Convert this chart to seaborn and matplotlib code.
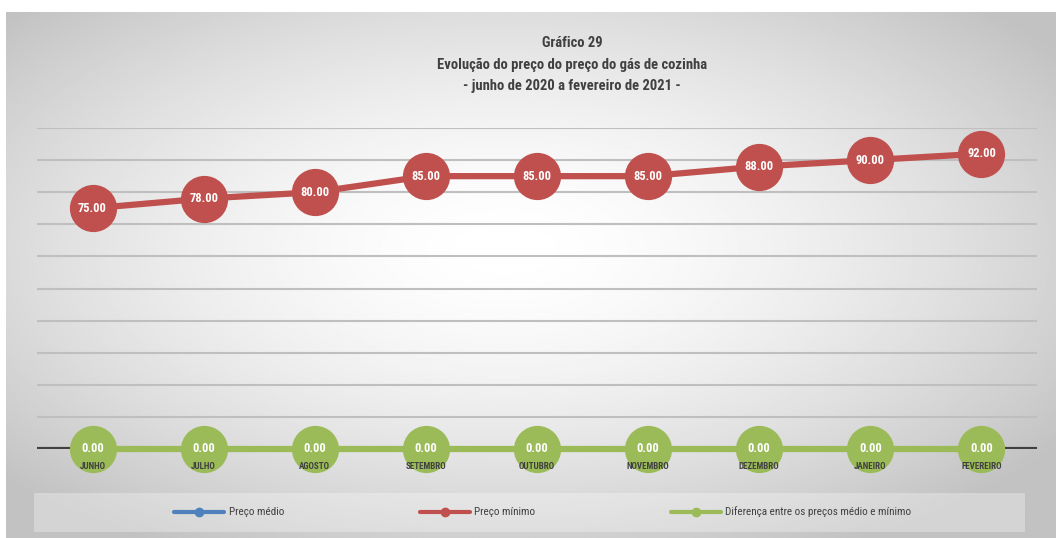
"""
Gráfico 29 - Evolução do preço do gás de cozinha (jun/2020 a fev/2021)
"""

import numpy as np
import pandas as pd
import matplotlib.pyplot as plt
from matplotlib.lines import Line2D
from matplotlib.patches import Rectangle
import seaborn as sns

sns.set_theme(style='white')
plt.rcParams['font.family'] = ['Roboto Condensed', 'DejaVu Sans']

# dados
meses = ['JUNHO', 'JULHO', 'AGOSTO', 'SETEMBRO', 'OUTUBRO', 'NOVEMBRO',
         'DEZEMBRO', 'JANEIRO', 'FEVEREIRO']
preco_medio = [75, 78, 80, 85, 85, 85, 88, 90, 92]
preco_minimo = [75, 78, 80, 85, 85, 85, 88, 90, 92]
diferenca = [0, 0, 0, 0, 0, 0, 0, 0, 0]

series = ['Preço médio', 'Preço mínimo', 'Diferença entre os preços médio e mínimo']
cores = {series[0]: '#4f81bd', series[1]: '#c0504d', series[2]: '#9bbb59'}

df = pd.DataFrame({
    'mes': meses * 3,
    'pos': list(range(len(meses))) * 3,
    'valor': preco_medio + preco_minimo + diferenca,
    'serie': [series[0]] * 9 + [series[1]] * 9 + [series[2]] * 9,
})

fig = plt.figure(figsize=(10.56, 5.38), dpi=100)
fig.patch.set_facecolor('white')

# fundo em degradê radial
bg = fig.add_axes([6 / 1056, 0, 1 - 6 / 1056, 1 - 12 / 538], zorder=-10)
yy, xx = np.mgrid[-1:1:300j, -1:1:600j]
r = np.sqrt((xx + 0.05) ** 2 + (yy + 0.1) ** 2)
grad = 1 - 0.24 * np.clip(r / 1.3, 0, 1) ** 1.6
bg.imshow(grad, cmap='gray', vmin=0, vmax=1, aspect='auto', extent=[0, 1, 0, 1])
bg.axis('off')

ax = fig.add_axes([37 / 1056, 1 - 449 / 538, 1000 / 1056, 321 / 538])
ax.set_facecolor('none')

# a série azul fica escondida sob a vermelha (valores iguais)
estilos = {series[0]: (2.5, 28), series[1]: (4.5, 34), series[2]: (4.5, 34)}
for s in series:
    sub = df[df['serie'] == s]
    lw, ms = estilos[s]
    sns.lineplot(data=sub, x='pos', y='valor', color=cores[s], ax=ax,
                 linewidth=lw, marker='o', markersize=ms, markeredgewidth=0,
                 clip_on=False, zorder=3, legend=False)
    if s == series[0]:
        continue
    for x, v in zip(sub['pos'], sub['valor']):
        ax.text(x, v, f'{v:.2f}', ha='center', va='center', color='white',
                fontsize=9, fontweight='bold', zorder=5)

ax.axhline(0, color='#404040', linewidth=3, zorder=1.5)
ax.set_xlim(-0.5, len(meses) - 0.5)
ax.set_ylim(0, 100)
ax.set_yticks(range(10, 101, 10))
ax.yaxis.grid(True, color='#bfbfbf', linewidth=1.5)
ax.set_axisbelow(True)
ax.set_yticklabels([])
ax.set_xticks([])
ax.tick_params(left=False, bottom=False)
ax.set_xlabel('')
ax.set_ylabel('')
for sp in ax.spines.values():
    sp.set_visible(False)

# rótulos dos meses
for i, m in enumerate(meses):
    ax.text(i, -5.3, m, ha='center', va='center', color='#404040',
            fontsize=6.5, fontweight='bold', zorder=6, clip_on=False)

# título
titulo = ['Gráfico 29',
          'Evolução do preço do preço do gás de cozinha',
          '- junho de 2020 a fevereiro de 2021 -']
for linha, ypx in zip(titulo, [43, 65, 86]):
    fig.text(572 / 1056, 1 - ypx / 538, linha, ha='center', va='center',
             fontsize=10.5, fontweight='bold', color='#404040')

# legenda
fig.patches.append(Rectangle((34 / 1056, 1 - 532 / 538), 991 / 1056, 39 / 538,
                             transform=fig.transFigure, facecolor='white',
                             alpha=0.3, edgecolor='none', zorder=-5))
handles = [Line2D([], [], color=cores[s], linewidth=3, marker='o', markersize=6)
           for s in series]
fig.legend(handles, series, loc='center', bbox_to_anchor=(543 / 1056, 1 - 512 / 538),
           ncol=3, frameon=False, fontsize=8, handlelength=4.5, handletextpad=0.4,
           columnspacing=12.2, labelcolor='#404040')

fig.savefig('out.png', dpi=100)
